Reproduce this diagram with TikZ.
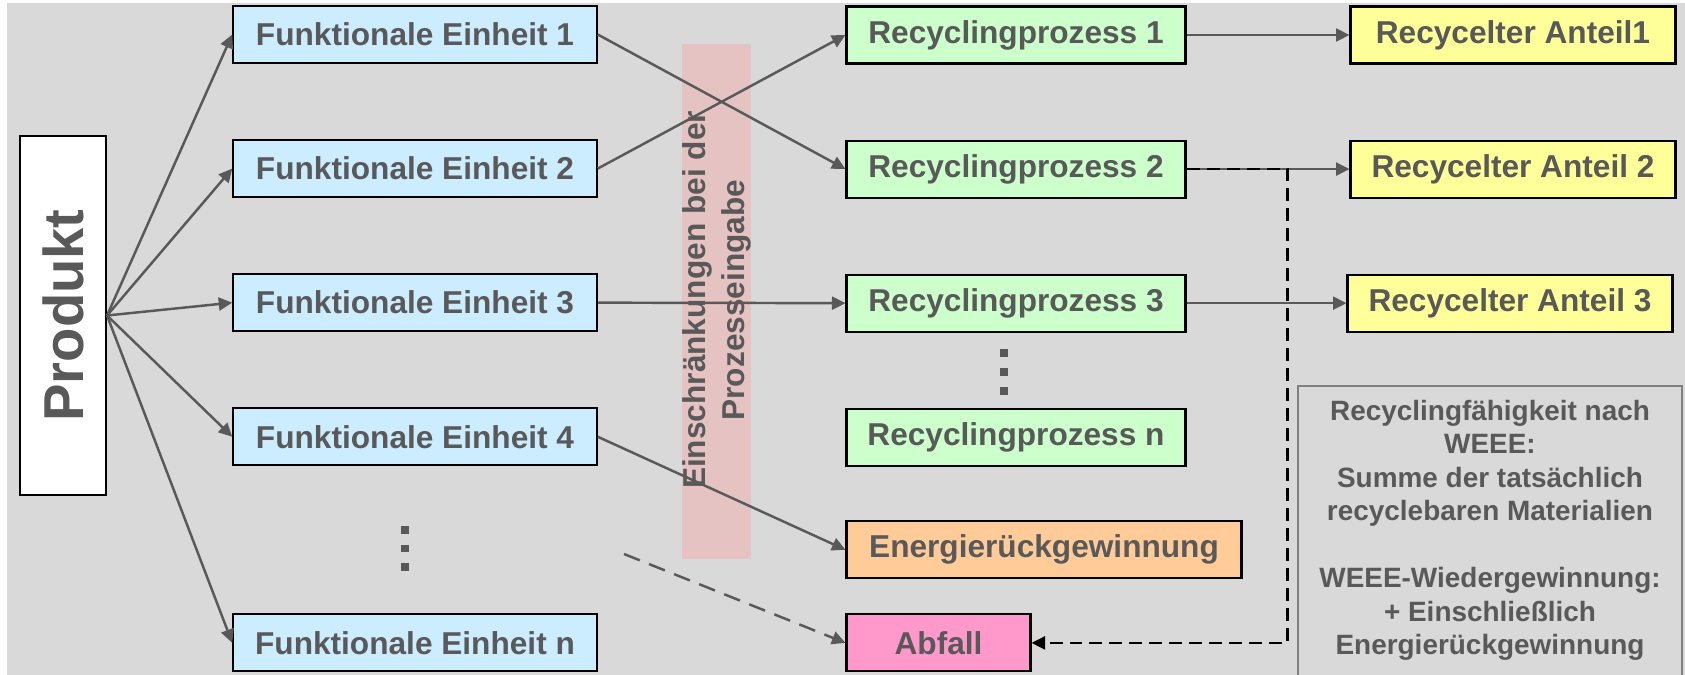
\documentclass[tikz,border=0pt]{standalone}
\usepackage{fontspec}
\setmainfont{Liberation Sans}
\usepackage{tikz}
\usetikzlibrary{arrows.meta, positioning}

\definecolor{txtgray}{RGB}{89,89,89}
\definecolor{bggray}{RGB}{217,217,217}
\definecolor{feblue}{RGB}{204,236,255}
\definecolor{rpgreen}{RGB}{204,255,204}
\definecolor{rayellow}{RGB}{255,255,153}
\definecolor{egorange}{RGB}{255,204,153}
\definecolor{wastepink}{RGB}{255,153,204}
\definecolor{bandred}{RGB}{230,195,195}
\definecolor{framegray}{RGB}{128,128,128}

\begin{document}
\begin{tikzpicture}[x=0.02cm, y=-0.02cm, node distance=1.5cm,
                    box/.style={draw, line width=1.2pt, text=txtgray, inner sep=2pt,
                            font=\fontsize{18}{21.6}\selectfont\bfseries, minimum height=1.14cm},
                    febox/.style={box, fill=feblue, minimum width=7.27cm},
                    rpbox/.style={box, fill=rpgreen, minimum width=6.78cm},
                    rabox/.style={box, fill=rayellow, minimum width=6.5cm},
                    dotsq/.style={fill=txtgray, inner sep=0, minimum size=0.15cm},
                    arr/.style={-{Triangle[length=0.27cm, width=0.26cm]}, line width=1.4pt, txtgray},
                    dasharr/.style={arr, dash pattern=on 0.34cm off 0.2cm},
                    blackdash/.style={-{Triangle[length=0.27cm, width=0.26cm]}, line width=1.4pt, black,
                            dash pattern=on 0.26cm off 0.14cm}]
                \useasboundingbox (0,0) rectangle (1685,675);
                \fill[bggray] (7,3) rectangle (1685,675);
                \fill[bandred] (682,44) rectangle (751,559);
                \node[rotate=90, text=txtgray, align=center,
                      font=\fontsize{18}{22.4}\selectfont\bfseries] (limit) at (717,300)
                      {Einschränkungen bei der\\Prozesseingabe};

                \node[draw, line width=1.2pt, fill=white, text=txtgray, minimum width=1.72cm,
                      minimum height=7.18cm, font=\fontsize{32}{38}\selectfont\bfseries] (prod) at (63,315.5)
                      {\rotatebox{90}{Produkt}};

                \node[febox] (fe1) at (415,34.5) {Funktionale Einheit 1};
                \node[febox, below=of fe1] (fe2) {Funktionale Einheit 2};
                \node[febox, below=of fe2] (fe3) {Funktionale Einheit 3};
                \node[febox, below=of fe3] (fe4) {Funktionale Einheit 4};
                \node[febox, below=2.94cm of fe4] (fen) {Funktionale Einheit n};
                \node[dotsq] (fedot1) at (405,530) {};
                \node[dotsq] (fedot2) at (405,548.5) {};
                \node[dotsq] (fedot3) at (405,567) {};

                \node[rpbox] (rp1) at (1016,35) {Recyclingprozess 1};
                \node[rpbox, below=of rp1] (rp2) {Recyclingprozess 2};
                \node[rpbox, below=of rp2] (rp3) {Recyclingprozess 3};
                \node[rpbox, below=of rp3] (rpn) {Recyclingprozess n};
                \node[dotsq] (rpdot1) at (1004,353) {};
                \node[dotsq] (rpdot2) at (1004,372) {};
                \node[dotsq] (rpdot3) at (1004,391) {};
                \node[box, fill=egorange, minimum width=7.9cm, below=1.07cm of rpn.south west,
                      anchor=north west] (energy) {Energierückgewinnung};
                \node[box, fill=wastepink, minimum width=3.68cm, below=0.68cm of energy.south west,
                      anchor=north west] (abfall) {Abfall};

                \node[rabox, right=3.26cm of rp1] (ra1) {Recycelter Anteil1};
                \node[rabox, right=3.26cm of rp2] (ra2) {Recycelter Anteil 2};
                \node[rabox, right=3.2cm of rp3] (ra3) {Recycelter Anteil 3};

                \node[text=txtgray, align=center, font=\fontsize{15.9}{19.07}\selectfont\bfseries] (weee)
                      at (1490,530.5) {Recyclingfähigkeit nach\\WEEE:\\Summe der tatsächlich\\
                      recyclebaren Materialien\\[19.07pt]WEEE-Wiedergewinnung:\\+ Einschließlich\\
                      Energierückgewinnung};
                \draw[framegray, line width=1.2pt] (1298,386) rectangle (1682,690);

                \draw[arr] (prod.east) -- (fe1.west);
                \draw[arr] (prod.east) -- (fe2.west);
                \draw[arr] (prod.east) -- (fe3.west);
                \draw[arr] (prod.east) -- (fe4.west);
                \draw[arr] (prod.east) -- (fen.west);
                \draw[arr] (fe1.east) -- (rp2.west);
                \draw[arr] (fe2.east) -- (rp1.west);
                \draw[arr] (fe3.east) -- (rp3.west);
                \draw[arr] (fe4.east) -- (energy.west);
                \draw[arr] (rp1.east) -- (ra1.west);
                \draw[arr] (rp2.east) -- (ra2.west);
                \draw[arr] (rp3.east) -- (ra3.west);
                \coordinate (waste) at (624,554);
                \draw[dasharr] (waste) -- (abfall.west);
                \draw[blackdash] (rp2.east) -- ++(2.02cm,0) |- (abfall.east);
            \end{tikzpicture}
\end{document}
